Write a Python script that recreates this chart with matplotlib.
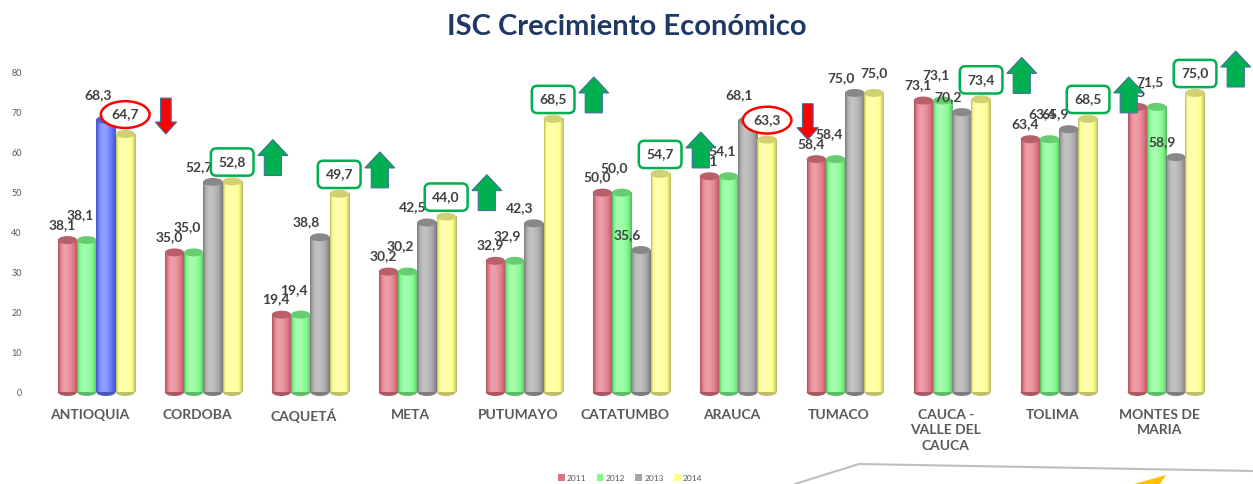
import matplotlib.pyplot as plt
import numpy as np
from matplotlib.colors import to_rgb
from matplotlib.patches import Ellipse, Polygon, Patch
from matplotlib.lines import Line2D

# Datos
regiones = ['ANTIOQUIA', 'CORDOBA', 'CAQUETÁ', 'META', 'PUTUMAYO', 'CATATUMBO',
            'ARAUCA', 'TUMACO', 'CAUCA -\nVALLE DEL\nCAUCA', 'TOLIMA',
            'MONTES DE\nMARIA']
anios = ['2011', '2012', '2013', '2014']
v2011 = [38.1, 35.0, 19.4, 30.2, 32.9, 50.0, 54.1, 58.4, 73.1, 63.4, 71.5]
v2012 = [38.1, 35.0, 19.4, 30.2, 32.9, 50.0, 54.1, 58.4, 73.1, 63.4, 71.5]
v2013 = [68.3, 52.7, 38.8, 42.5, 42.3, 35.6, 68.1, 75.0, 70.2, 65.9, 58.9]
v2014 = [64.7, 52.8, 49.7, 44.0, 68.5, 54.7, 63.3, 75.0, 73.4, 68.5, 75.0]
yticks = [0, 10, 20, 30, 40, 50, 60, 70, 80]

colores = ['#E27482', '#7CFB8A', '#A6A6A6', '#FFFF8C']
azul = '#5F74FF'
verde = '#00B050'
rojo = '#FF0000'

plt.rcParams['font.family'] = ['Lato', 'DejaVu Sans']

fig = plt.figure(figsize=(12.53, 4.84), dpi=100)
ax = fig.add_axes([30/1253, 92/484, 1210/1253, 319/484])


def mezcla(c, s):
    c = np.array(to_rgb(c))
    if s >= 0:
        return c + (1 - c) * s
    return c * (1 + s)


def cilindro(x, h, w, color):
    t = np.linspace(0, 1, 60)
    s = np.where(t < 0.35, 0.45 - 1.0 * ((0.35 - t) / 0.35) ** 2,
                 0.45 - 1.0 * ((t - 0.35) / 0.65) ** 2)
    img = np.array([mezcla(color, k * 0.7 if k > 0 else k * 0.5) for k in s])
    ax.imshow(img[None, :, :], extent=(x - w/2, x + w/2, 0, h), aspect='auto',
              interpolation='bilinear', zorder=2)
    ax.add_patch(Ellipse((x, 0), w, 2.0, facecolor=mezcla(color, -0.25),
                         edgecolor='none', zorder=1.9, clip_on=False))
    ax.add_patch(Ellipse((x, h), w, 2.0, facecolor=mezcla(color, -0.18),
                         edgecolor='none', zorder=2.1))


w = 0.18
offs = [-0.27, -0.09, 0.09, 0.27]
series = [v2011, v2012, v2013, v2014]
# desplazamiento de etiquetas (pt)
lab_off = [(-4, 11), (-5, 18), (-10, 11)]

for j, vals in enumerate(series):
    for i, v in enumerate(vals):
        c = colores[j]
        if j == 2 and i == 0:
            c = azul
        x = i + offs[j]
        cilindro(x, v, w, c)
        txt = f'{v:.1f}'.replace('.', ',')
        if j < 3:
            dx, dy = lab_off[j]
            if j == 2 and v2014[i] < v:
                dx, dy = -6, 18
            ax.annotate(txt, (x, v), xytext=(dx, dy), textcoords='offset points',
                        ha='center', va='center', fontsize=10, fontweight='bold',
                        color='#404040', zorder=5)

# etiquetas 2014 con recuadro y flechas de tendencia
for i, (a, b) in enumerate(zip(v2013, v2014)):
    x = i + offs[3]
    txt = f'{b:.1f}'.replace('.', ',')
    if b > a:
        box = dict(boxstyle='round,pad=0.55,rounding_size=0.4', facecolor='white',
                   edgecolor=verde, linewidth=1.8)
    elif b < a:
        box = dict(boxstyle='ellipse,pad=0.25', facecolor='white',
                   edgecolor=rojo, linewidth=1.8)
    else:
        box = None
    ax.annotate(txt, (x, b), xytext=(0, 14), textcoords='offset points',
                ha='center', va='center', fontsize=10, fontweight='bold',
                color='#404040', zorder=6, bbox=box)
    xa = x + 0.38
    if b > a:
        y0, y1 = b + 1.5, b + 10.5
        hw, sw, hl = 0.14, 0.08, 4.0
        pts = [(xa - sw, y0), (xa + sw, y0), (xa + sw, y1 - hl), (xa + hw, y1 - hl),
               (xa, y1), (xa - hw, y1 - hl), (xa - sw, y1 - hl)]
        ax.add_patch(Polygon(pts, closed=True, facecolor=verde, edgecolor='#41719C',
                             linewidth=0.8, zorder=6, clip_on=False))
    elif b < a:
        y0, y1 = b + 9.0, b
        hw, sw, hl = 0.1, 0.05, 3.0
        pts = [(xa - sw, y0), (xa + sw, y0), (xa + sw, y1 + hl), (xa + hw, y1 + hl),
               (xa, y1), (xa - hw, y1 + hl), (xa - sw, y1 + hl)]
        ax.add_patch(Polygon(pts, closed=True, facecolor=rojo, edgecolor='#41719C',
                             linewidth=0.8, zorder=6, clip_on=False))

ax.set_xlim(-0.62, 10.69)
ax.set_ylim(0, 80)
ax.set_yticks(yticks)
ax.set_yticklabels([str(t) for t in yticks], fontsize=6.5, color='#595959')
ax.set_xticks(np.arange(len(regiones)) - 0.06)
ax.set_xticklabels(regiones, fontsize=10, fontweight='bold', color='#595959',
                   linespacing=1.35, va='top')
ax.tick_params(length=0)
ax.tick_params(axis='x', pad=12)
ax.tick_params(axis='y', pad=6)
for s in ax.spines.values():
    s.set_visible(False)

fig.text(0.5, 0.945, 'ISC Crecimiento Económico', ha='center', va='center',
         fontsize=21, fontweight='bold', color='#1F3864')

handles = [Patch(facecolor=c, edgecolor='none') for c in colores]
fig.legend(handles, anios, loc='center', bbox_to_anchor=(0.503, 6/484),
           ncol=4, frameon=False, fontsize=6, handlelength=0.8, handleheight=0.8,
           handletextpad=0.3, columnspacing=1.2, labelcolor='#595959',
           borderpad=0.1)

# adorno inferior derecho
fig.add_artist(Line2D([795/1253, 859/1253, 1.0], [0.0, 20/484, 13/484],
                      color='#BFBFBF', linewidth=1.5, transform=fig.transFigure))
fig.add_artist(Polygon([(1134/1253, 0.0), (1166/1253, 9/484), (1160/1253, 0.0)],
                       closed=True, facecolor='#FFC000', edgecolor='none',
                       transform=fig.transFigure))

plt.savefig('out.png', dpi=100)
